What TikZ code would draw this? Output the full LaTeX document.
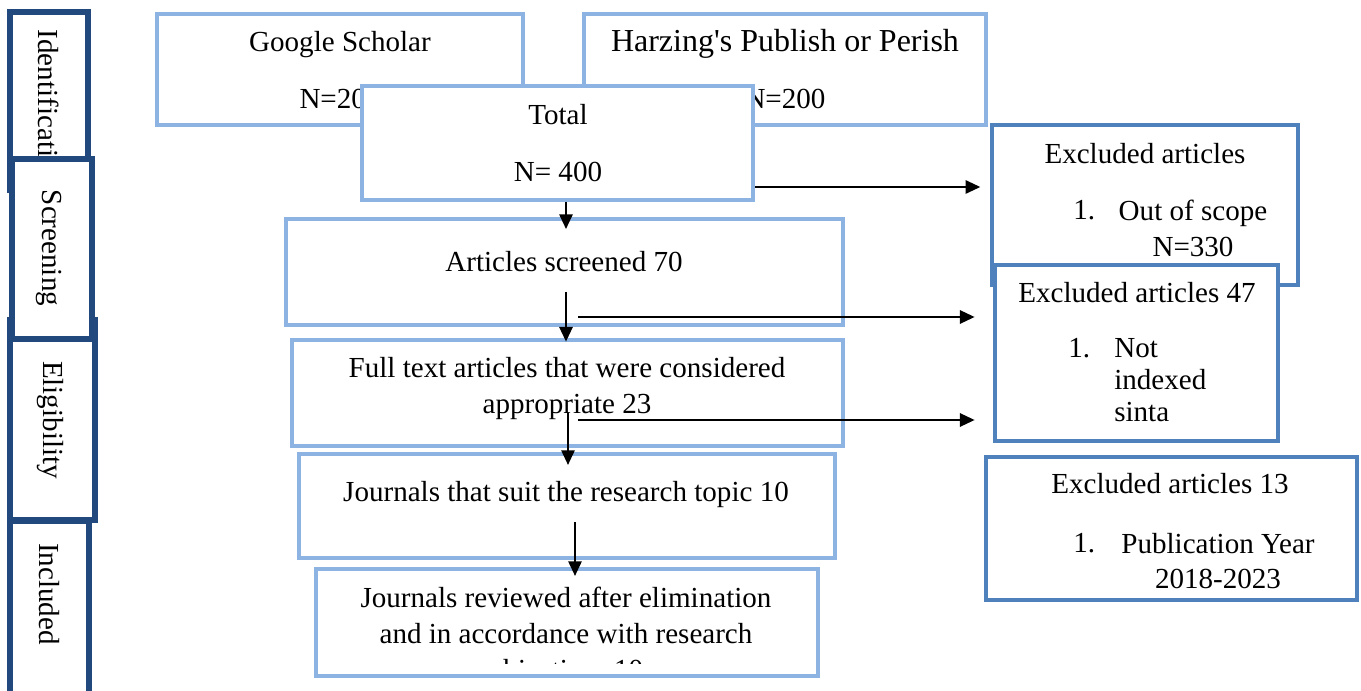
\documentclass[tikz,border=0pt]{standalone}
\usepackage{fontspec}
\setmainfont{Liberation Serif}
\usetikzlibrary{arrows.meta,positioning,fit}
\definecolor{pale}{HTML}{8DB3E2}
\definecolor{mid}{HTML}{4F81BD}
\definecolor{deep}{HTML}{22497D}

\begin{document}
\begin{tikzpicture}[x=0.75pt,y=-0.75pt,
 font=\fontsize{21.8}{27}\selectfont,
 pbox/.style={draw=pale,fill=white,line width=3.6pt,inner sep=0pt},
 xbox/.style={draw=mid,fill=white,line width=3.6pt,inner sep=0pt},
 stage/.style={draw=deep,fill=white,line width=4.2pt,inner sep=0pt},
 txt/.style={inner sep=0pt,align=center,anchor=base},
 side/.style={inner sep=0pt,rotate=-90,anchor=center},
 arr/.style={-{Triangle[length=11pt,width=10pt]},line width=1.4pt}]
\useasboundingbox (0,0) rectangle (1361,691);

% stages on the left
\node[stage,fit={(10,12) (88,190)}] (idf) {};
\node[side] (idft) at (49,108) {Identification};
\node[stage,fit={(10,320) (95,520)}] (elg) {};
\node[side] (elgt) at (50,420) {Eligibility};
\node[stage,fit={(12,159) (92,339)}] (scn) {};
\node[side] (scnt) at (49,248) {Screening};
\node[stage,fit={(10,521) (89,705)}] (inc) {};
\node[side] (inct) at (49,594) {Included};

% sources and total (base = last line)
\node[pbox,fit={(157,14) (523,125)}] (gs) {};
\node[txt] (gst) at (340,109) {Google Scholar\\[16pt]N=200};
\node[pbox,fit={(584,14) (986,125)}] (hz) {};
\node[txt] (hzt) at (785,109) {{\fontsize{24}{27}\selectfont Harzing\textquotesingle s Publish or Perish}\\[16pt]N=200};
\node[pbox,fit={(362,86) (753,200)}] (tot) {};
\node[txt] (tott) at (558,182) {Total\\[16pt]N= 400};

% excluded
\node[xbox,fit={(992,125) (1298,285)}] (ex1) {};
\node[txt] (ex1t) at (1145,164) {Excluded articles};
\node[txt,anchor=base west] (ex1n) at (1073,220) {1.};
\node[txt] (ex1i) at (1193,257) {Out of scope\\N=330};

\node[pbox,fit={(286,219) (843,325)}] (scr) {};
\node[txt] (scrt) at (564,272) {Articles screened 70};

\node[xbox,fit={(995,265) (1278,441)}] (ex2) {};
\node[txt] (ex2t) at (1137,303) {Excluded articles 47};
\node[txt,anchor=base west] (ex2n) at (1068,358) {1.};
\node[txt,anchor=base west,align=left] (ex2i) at (1114,422) {Not\\[-3pt]indexed\\[-3pt]sinta};

\node[pbox,fit={(292,340) (843,446)}] (full) {};
\node[txt] (fullt) at (567,414) {Full text articles that were considered\\appropriate 23};

\node[pbox,fit={(299,454) (835,558)}] (topic) {};
\node[txt] (topict) at (566,502) {Journals that suit the research topic 10};

\node[xbox,fit={(986,457) (1357,600)}] (ex3) {};
\node[txt] (ex3t) at (1170,494) {Excluded articles 13};
\node[txt,anchor=base west] (ex3n) at (1073,552) {1.};
\node[txt] (ex3i) at (1218,589) {Publication Year\\2018-2023};

\node[pbox,fit={(316,569) (818,676)}] (rev) {};
\begin{scope}
\clip (316,569) rectangle (818,663);
\node[txt] (revt) at (566,679) {Journals reviewed after elimination\\and in accordance with research\\objectives 10};
\end{scope}

% arrows
\coordinate (d1) at (566,229);
\coordinate (h1) at (760,187);
\coordinate (d2) at (566,292);
\coordinate (h2) at (578,317);
\coordinate (d3) at (568,413);
\coordinate (h3) at (578,420);
\coordinate (d4) at (575,522);
\draw[arr] (tot.south -| d1) -- (d1);
\draw[arr,shorten >=7pt] (tot.east |- h1) -- (ex1.west |- h1);
\draw[arr,shorten >=-3pt] (d2) -- (d2 |- full.north);
\draw[arr,shorten >=13.5pt] (h2) -- (ex2.west |- h2);
\draw[arr,shorten >=-10pt] (d3) -- (d3 |- topic.north);
\draw[arr,shorten >=13.5pt] (h3) -- (ex2.west |- h3);
\draw[arr,shorten >=-7pt] (d4) -- (d4 |- rev.north);
\end{tikzpicture}
\end{document}
